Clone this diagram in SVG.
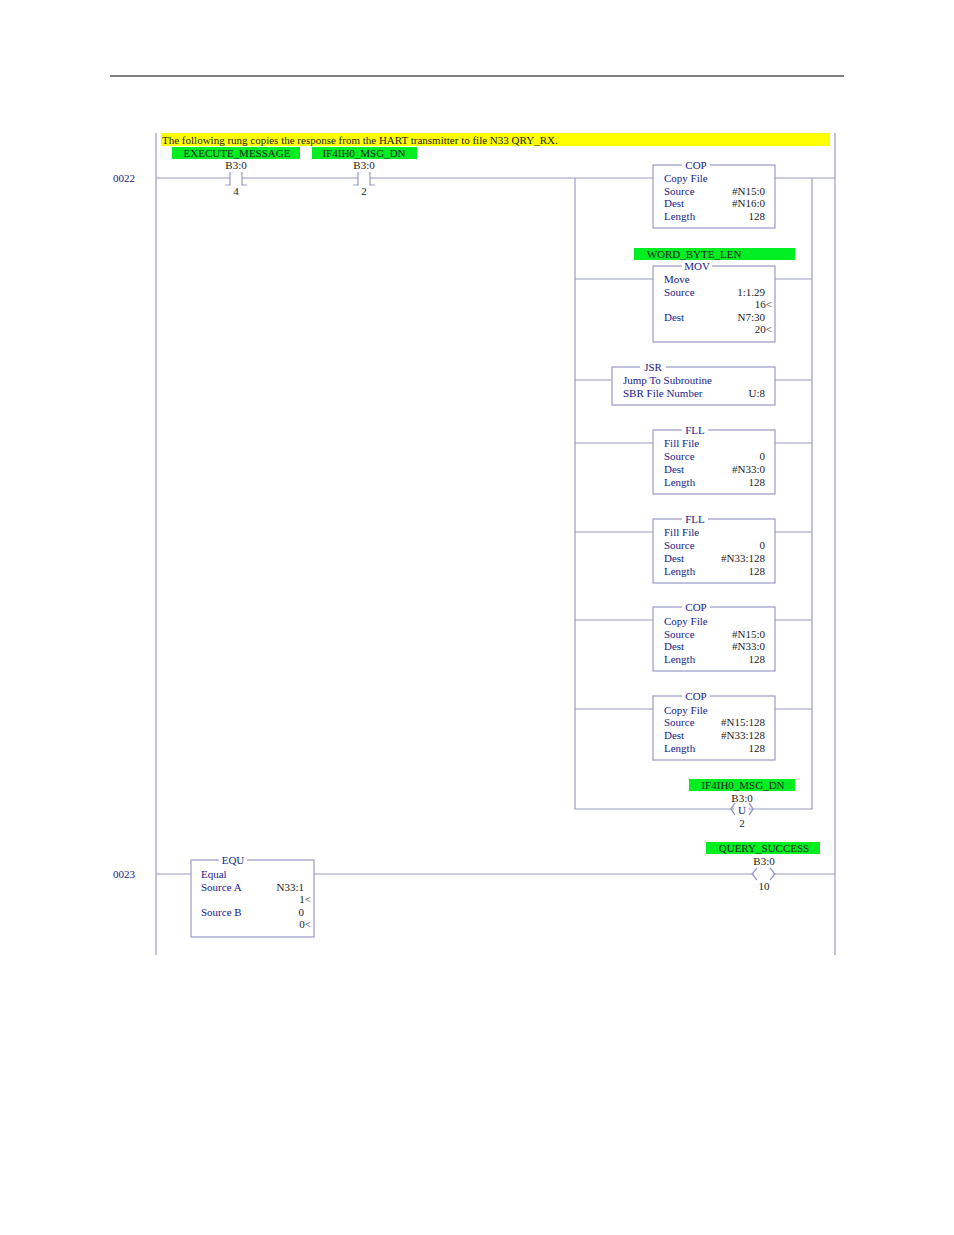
<svg xmlns="http://www.w3.org/2000/svg" width="954" height="1235" viewBox="0 0 954 1235">
<style>
.w{stroke:#9a9ac8;stroke-width:1.2;fill:none}
.b{fill:#fff;stroke:#9a9ac8;stroke-width:1.2}
text{font-family:"Liberation Serif",serif;font-size:11px}
.l{fill:#1a1a8c}
.k{fill:#222}
.r{text-anchor:end}
.m{text-anchor:middle}
.g{fill:#00ee22}
</style>
<rect width="954" height="1235" fill="#fff"/>
<line x1="110" y1="76" x2="844" y2="76" stroke="#000" stroke-width="1"/>
<rect x="161" y="133" width="669" height="13" fill="#ffff00"/>
<text x="162" y="144" class="k">The following rung copies the response from the HART transmitter to file N33 QRY_RX.</text>
<text x="113" y="182" class="l">0022</text>
<text x="113" y="878" class="l">0023</text>
<g id="connectors" class="w">
<line x1="156" y1="133" x2="156" y2="955"/>
<line x1="835" y1="133" x2="835" y2="955"/>
<path d="M156 178H230M242 178H358M370 178H835"/>
<path d="M575 178V809H812V178"/>
<path d="M575 279H812M575 380H812M575 443H812M575 532H812M575 620H812M575 709H812"/>
<path d="M156 874H835"/>
</g>
<g id="c1"><rect x="172" y="147" width="128" height="12" class="g"/><text x="237" y="157" class="m k">EXECUTE_MESSAGE</text><text x="236" y="169" class="m k">B3:0</text><path class="w" d="M230 172V185H225M242 172V185H247"/><text x="236" y="195" class="m k">4</text></g>
<g id="c2"><rect x="312" y="147" width="105" height="12" class="g"/><text x="364" y="157" class="m k">IF4IH0_MSG_DN</text><text x="364" y="169" class="m k">B3:0</text><path class="w" d="M358 172V185H353M370 172V185H375"/><text x="364" y="195" class="m k">2</text></g>
<g id="cop1"><rect x="653" y="165" width="122" height="63" class="b"/><rect x="682" y="162" width="28" height="6" fill="#fff"/><text x="696" y="169" class="m l">COP</text><text x="664" y="182" class="l">Copy File</text><text x="664" y="195" class="l">Source</text><text x="664" y="207" class="l">Dest</text><text x="664" y="220" class="l">Length</text><text x="765" y="195" class="r k">#N15:0</text><text x="765" y="207" class="r k">#N16:0</text><text x="765" y="220" class="r k">128</text></g>
<g id="mov"><rect x="634" y="248" width="161" height="12" class="g"/><text x="694" y="258" class="m k">WORD_BYTE_LEN</text><rect x="653" y="266" width="122" height="76" class="b"/><rect x="682" y="263" width="30" height="6" fill="#fff"/><text x="697" y="270" class="m l">MOV</text><text x="664" y="283" class="l">Move</text><text x="664" y="296" class="l">Source</text><text x="664" y="321" class="l">Dest</text><text x="765" y="296" class="r k">1:1.29</text><text x="772" y="308" class="r k">16&lt;</text><text x="765" y="321" class="r k">N7:30</text><text x="772" y="333" class="r k">20&lt;</text></g>
<g id="jsr"><rect x="612" y="367" width="163" height="38" class="b"/><rect x="640" y="364" width="26" height="6" fill="#fff"/><text x="653" y="371" class="m l">JSR</text><text x="623" y="384" class="l">Jump To Subroutine</text><text x="623" y="397" class="l">SBR File Number</text><text x="765" y="397" class="r k">U:8</text></g>
<g id="fll1"><rect x="653" y="430" width="122" height="64" class="b"/><rect x="682" y="427" width="26" height="6" fill="#fff"/><text x="695" y="434" class="m l">FLL</text><text x="664" y="447" class="l">Fill File</text><text x="664" y="460" class="l">Source</text><text x="664" y="473" class="l">Dest</text><text x="664" y="486" class="l">Length</text><text x="765" y="460" class="r k">0</text><text x="765" y="473" class="r k">#N33:0</text><text x="765" y="486" class="r k">128</text></g>
<g id="fll2"><rect x="653" y="519" width="122" height="64" class="b"/><rect x="682" y="516" width="26" height="6" fill="#fff"/><text x="695" y="523" class="m l">FLL</text><text x="664" y="536" class="l">Fill File</text><text x="664" y="549" class="l">Source</text><text x="664" y="562" class="l">Dest</text><text x="664" y="575" class="l">Length</text><text x="765" y="549" class="r k">0</text><text x="765" y="562" class="r k">#N33:128</text><text x="765" y="575" class="r k">128</text></g>
<g id="cop2"><rect x="653" y="607" width="122" height="64" class="b"/><rect x="682" y="604" width="28" height="6" fill="#fff"/><text x="696" y="611" class="m l">COP</text><text x="664" y="625" class="l">Copy File</text><text x="664" y="638" class="l">Source</text><text x="664" y="650" class="l">Dest</text><text x="664" y="663" class="l">Length</text><text x="765" y="638" class="r k">#N15:0</text><text x="765" y="650" class="r k">#N33:0</text><text x="765" y="663" class="r k">128</text></g>
<g id="cop3"><rect x="653" y="696" width="122" height="64" class="b"/><rect x="682" y="693" width="28" height="6" fill="#fff"/><text x="696" y="700" class="m l">COP</text><text x="664" y="714" class="l">Copy File</text><text x="664" y="726" class="l">Source</text><text x="664" y="739" class="l">Dest</text><text x="664" y="752" class="l">Length</text><text x="765" y="726" class="r k">#N15:128</text><text x="765" y="739" class="r k">#N33:128</text><text x="765" y="752" class="r k">128</text></g>
<g id="coilU"><rect x="689" y="779" width="106" height="12" class="g"/><text x="743" y="789" class="m k">IF4IH0_MSG_DN</text><text x="742" y="802" class="m k">B3:0</text><path d="M735 803L731 809L735 815M749 803L753 809L749 815" fill="none" stroke="#9a9ac8" stroke-width="1.2"/><rect x="734" y="804" width="15" height="11" fill="#fff"/><text x="742" y="814" class="m l">U</text><path d="M735 803L731 809L735 815M749 803L753 809L749 815" fill="none" stroke="#9a9ac8" stroke-width="1.2"/><text x="742" y="827" class="m k">2</text></g>
<g id="equ"><rect x="191" y="860" width="123" height="77" class="b"/><rect x="219" y="857" width="28" height="6" fill="#fff"/><text x="233" y="864" class="m l">EQU</text><text x="201" y="878" class="l">Equal</text><text x="201" y="891" class="l">Source A</text><text x="201" y="916" class="l">Source B</text><text x="304" y="891" class="r k">N33:1</text><text x="311" y="903" class="r k">1&lt;</text><text x="304" y="916" class="r k">0</text><text x="311" y="928" class="r k">0&lt;</text></g>
<g id="coil"><rect x="706" y="842" width="114" height="12" class="g"/><text x="764" y="852" class="m k">QUERY_SUCCESS</text><text x="764" y="865" class="m k">B3:0</text><rect x="754" y="868" width="19" height="12" fill="#fff"/><path d="M757 868L752 874L757 880M770 868L775 874L770 880" fill="none" stroke="#9a9ac8" stroke-width="1.2"/><text x="764" y="890" class="m k">10</text></g>
</svg>
